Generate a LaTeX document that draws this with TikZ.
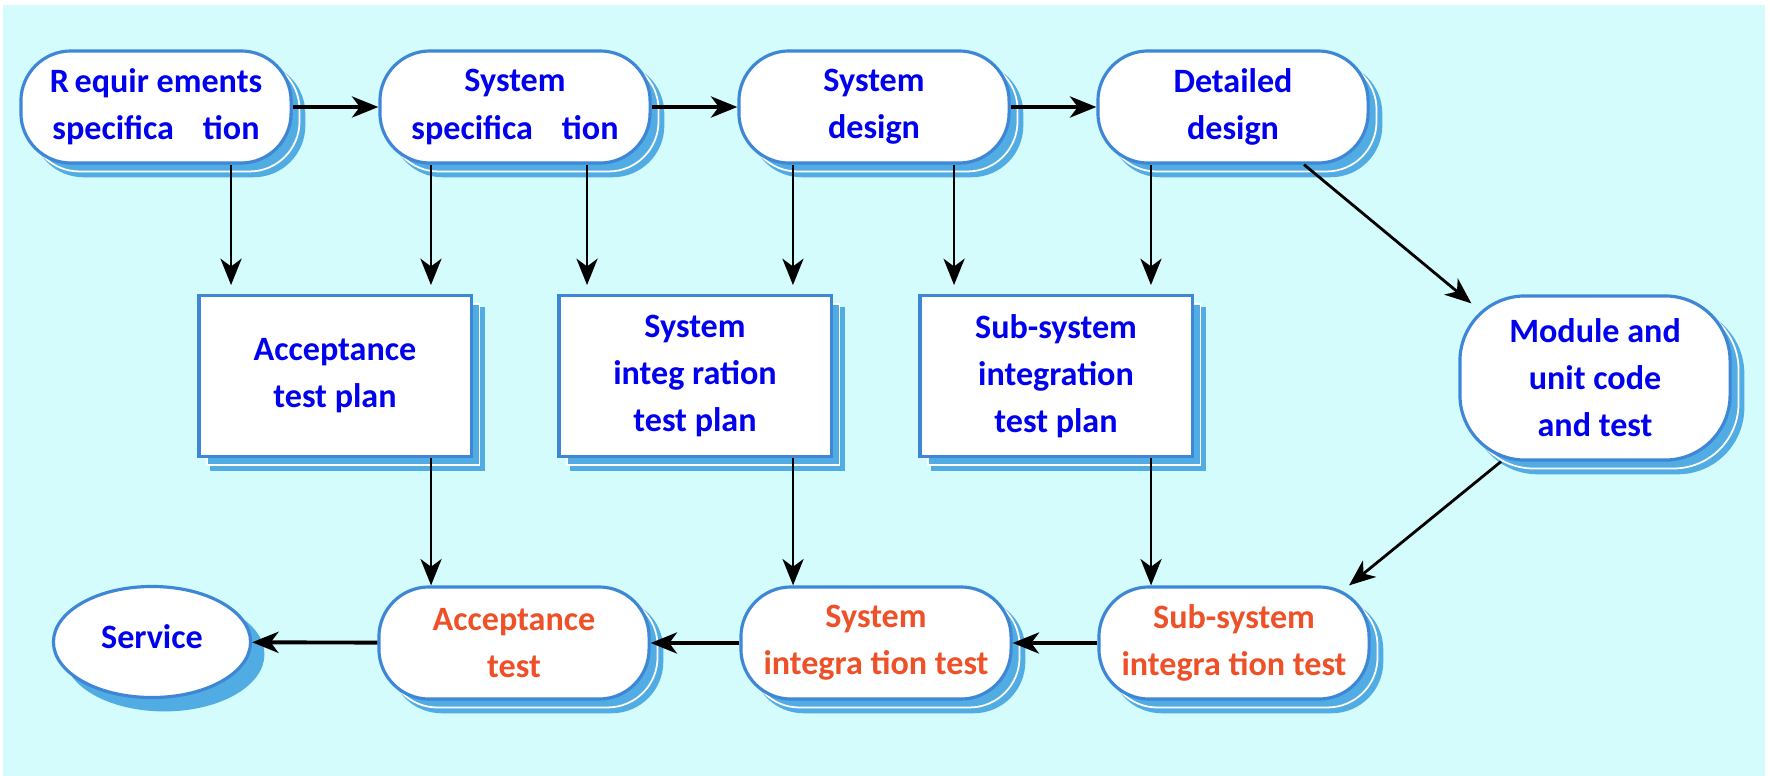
\documentclass[tikz,border=0pt]{standalone}
\usepackage{fontspec}
\setmainfont{Carlito}
\usetikzlibrary{arrows.meta,shadows,shapes.geometric}

\definecolor{bgcyan}{RGB}{213,252,253}
\definecolor{edgeblue}{RGB}{62,134,214}
\definecolor{shadeblue}{RGB}{82,172,228}
\definecolor{txtblue}{RGB}{0,0,238}
\definecolor{txtred}{RGB}{238,80,40}

\begin{document}
\begin{tikzpicture}[
  x=0.01cm, y=-0.01cm,
  >={Stealth[length=7.5pt,width=6pt,inset=2.2pt]},
  every node/.style={font=\bfseries\fontsize{9.7}{13.4}\selectfont},
  twoshadow/.style={
    copy shadow={shadow xshift=3.6pt, shadow yshift=-3.6pt, fill=shadeblue, draw=shadeblue},
    copy shadow={shadow xshift=2.4pt, shadow yshift=-2.4pt, fill=shadeblue, draw=white, line width=0.5pt}},
  stadium/.style={draw=edgeblue, line width=0.9pt, fill=white, rounded corners=0.5cm,
    minimum width=2.7cm, minimum height=1.12cm, inner sep=0pt, align=center,
    text=txtblue, twoshadow},
  plan/.style={draw=edgeblue, line width=0.9pt, fill=white,
    minimum width=2.72cm, minimum height=1.61cm, inner sep=0pt, align=center,
    text=txtblue, twoshadow},
  oval/.style={ellipse, draw=edgeblue, line width=0.9pt, fill=white,
    minimum width=1.97cm, minimum height=1.11cm, inner sep=0pt, text=txtblue,
    copy shadow={shadow xshift=3.5pt, shadow yshift=-3.5pt, fill=shadeblue, draw=shadeblue}},
  flow/.style={->, line width=0.8pt},
  flowh/.style={->, line width=1.1pt},
  gap/.style={shorten >=2.5pt}
]
  \useasboundingbox (0,0) rectangle (1770,776);
  \fill[bgcyan] (3,5) rectangle (1765,776);

  % top row
  \node[stadium] (req) at (156,107) {R\,equir ements\\specifica\hspace{0.85em}tion};
  \node[stadium] (sysspec) at (515,107) {System\\specifica\hspace{0.85em}tion};
  \node[stadium] (sysdes) at (874,107) {System\\design};
  \node[stadium] (detdes) at (1233,107) {Detailed\\design};

  % test plans
  \node[plan] (accplan) at (335,376) {Acceptance\\test plan};
  \node[plan] (sysplan) at (695,376) {System\\integ ration\\test plan};
  \node[plan] (subplan) at (1056,376) {Sub-system\\integration\\test plan};
  \node[stadium, minimum height=1.64cm, rounded corners=0.65cm] (module) at (1595,378)
    {Module and\\unit code\\and test};

  % bottom row
  \node[oval, text depth=0.1cm] (service) at (152,642) {Service};
  \node[stadium, text=txtred] (acctest) at (514,643) {Acceptance\\test};
  \node[stadium, text=txtred] (systest) at (876,643) {System\\integra tion test};
  \node[stadium, text=txtred] (subtest) at (1234,643) {Sub-system\\integra tion test};

  \draw[flowh] (req) -- (sysspec);
  \draw[flowh] (sysspec) -- (sysdes);
  \draw[flowh] (sysdes) -- (detdes);

  \draw[flow, gap] ([xshift=0.75cm]req.south) -- ([xshift=0.75cm]req.south |- accplan.north);
  \draw[flow, gap] ([xshift=-0.84cm]sysspec.south) -- ([xshift=-0.84cm]sysspec.south |- accplan.north);
  \draw[flow, gap] ([xshift=0.72cm]sysspec.south) -- ([xshift=0.72cm]sysspec.south |- sysplan.north);
  \draw[flow, gap] ([xshift=-0.81cm]sysdes.south) -- ([xshift=-0.81cm]sysdes.south |- sysplan.north);
  \draw[flow, gap] ([xshift=0.80cm]sysdes.south) -- ([xshift=0.80cm]sysdes.south |- subplan.north);
  \draw[flow, gap] ([xshift=-0.82cm]detdes.south) -- ([xshift=-0.82cm]detdes.south |- subplan.north);
  \draw[flow] ([xshift=0.71cm]detdes.south) -- ([shift={(0.13cm,-0.09cm)}]module.north west);

  \draw[flow] ([xshift=0.96cm]accplan.south) -- ([xshift=0.96cm]accplan.south |- acctest.north);
  \draw[flow] ([xshift=0.98cm]sysplan.south) -- ([xshift=0.98cm]sysplan.south |- systest.north);
  \draw[flow] ([xshift=0.95cm]subplan.south) -- ([xshift=0.95cm]subplan.south |- subtest.north);
  \draw[flow] ([xshift=-0.94cm]module.south) -- ([xshift=1.15cm]subtest.north);

  \draw[flowh] (subtest) -- (systest);
  \draw[flowh] (systest) -- (acctest);
  \draw[flowh] (acctest) -- (service);
\end{tikzpicture}
\end{document}
